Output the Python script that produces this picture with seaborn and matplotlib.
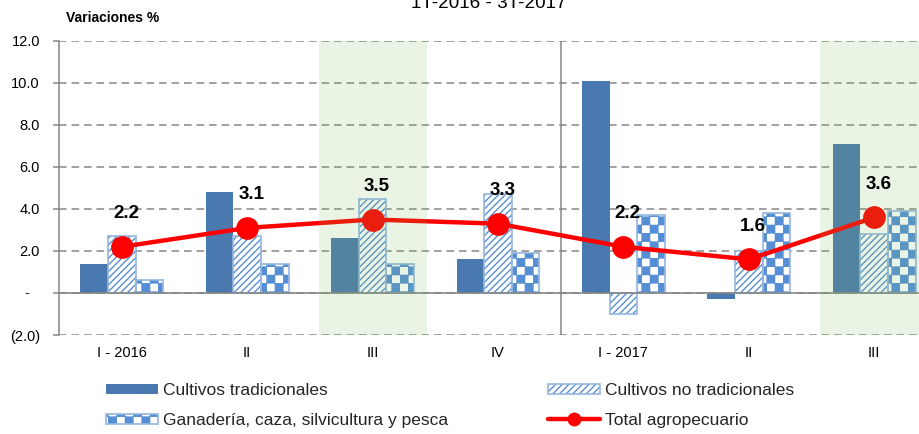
import warnings
import numpy as np
import pandas as pd
import matplotlib
matplotlib.use("Agg")
import matplotlib.pyplot as plt
import seaborn as sns
from matplotlib import hatch as mhatch
from matplotlib.path import Path
from matplotlib.patches import Patch, Rectangle
from matplotlib.lines import Line2D
from matplotlib.legend_handler import HandlerTuple

warnings.filterwarnings("ignore")

# data (variaciones % por trimestre)
quarters = ["1T-2016", "2T-2016", "3T-2016", "4T-2016", "1T-2017", "2T-2017", "3T-2017"]
quarter_labels = ["I - 2016", "II", "III", "IV", "I - 2017", "II", "III"]
trad = [1.4, 4.8, 2.6, 1.6, 10.1, -0.3, 7.1]
no_trad = [2.7, 2.7, 4.5, 4.7, -1.0, 2.0, 2.8]
ganaderia = [0.6, 1.4, 1.4, 1.9, 3.7, 3.8, 3.9]
total = [2.2, 3.1, 3.5, 3.3, 2.2, 1.6, 3.6]
series_names = ["Cultivos tradicionales", "Cultivos no tradicionales",
                "Ganadería, caza, silvicultura y pesca"]
total_name = "Total agropecuario"
yticks = [-2, 0, 2, 4, 6, 8, 10, 12]
ytick_labels = ["(2.0)", "", "2.0", "4.0", "6.0", "8.0", "10.0", "12.0"]
highlight = ["3T-2016", "3T-2017"]
first_2017 = "1T-2017"

trad_color = "#4A79B0"
hatch_color = "#5B8FD3"
checker_color = "#558ED5"
edge_light = "#93B6E0"
grey = "#868686"


class CheckerHatch(mhatch.HatchPatternBase):
    """Filled checkerboard hatch, used with the '#' character."""
    filled = True

    def __init__(self, hatch, density):
        self.n = hatch.count("#") * 6
        self.num_vertices = (self.n * self.n // 2) * 5

    def set_vertices_and_codes(self, vertices, codes):
        s = 1.0 / self.n
        d = 0.004
        k = 0
        for i in range(self.n):
            for j in range(self.n):
                if (i + j) % 2:
                    continue
                x0, y0 = i * s + d, j * s + d
                x1, y1 = x0 + s - 2 * d, y0 + s - 2 * d
                vertices[k:k + 5] = [(x0, y0), (x1, y0), (x1, y1), (x0, y1), (x0, y0)]
                codes[k:k + 5] = [Path.MOVETO, Path.LINETO, Path.LINETO,
                                  Path.LINETO, Path.CLOSEPOLY]
                k += 5


mhatch._hatch_types.append(CheckerHatch)

sns.set_theme(style="white")
plt.rcParams["font.family"] = ["Liberation Sans", "DejaVu Sans"]
plt.rcParams["hatch.linewidth"] = 1.0
plt.rcParams["lines.scale_dashes"] = False

df = pd.DataFrame({
    "trimestre": quarters * 3,
    "serie": np.repeat(series_names, len(quarters)),
    "valor": trad + no_trad + ganaderia,
})

fig = plt.figure(figsize=(9.2, 4.34), dpi=100)
ax = fig.add_axes([59 / 920, 99 / 434, 878 / 920, 294 / 434])

sns.barplot(data=df, x="trimestre", y="valor", hue="serie", order=quarters,
            hue_order=series_names, palette=[trad_color, "white", "white"],
            width=0.66, saturation=1, errorbar=None, legend=False,
            linewidth=0, ax=ax)

# hatched / checkered fills + light outline
styles = [(None, None), ("/////", hatch_color), ("##", checker_color)]
for cont, (h, hc) in zip(ax.containers, styles):
    if h is None:
        continue
    for bar in cont:
        bar.set_hatch(h)
        bar.set_edgecolor(hc)
        bar.set_linewidth(0)
        ax.add_patch(Rectangle(bar.get_xy(), bar.get_width(), bar.get_height(),
                               fill=False, ec=edge_light, lw=1.2,
                               zorder=bar.get_zorder() + 0.1))

sns.pointplot(x=quarters, y=total, order=quarters, color="red", markers="o",
              markersize=14, linewidth=3.2, errorbar=None, ax=ax)
pts = ax.lines[-1].get_xydata()
for line in ax.lines:
    line.set_zorder(3)
    line.set_markeredgecolor("red")

for (x, y), v in zip(pts, total):
    ax.annotate(f"{v:.1f}", xy=(x, y), xytext=(3, 24), textcoords="offset points",
                ha="center", va="center", fontsize=13.5, fontweight="bold",
                color="black", zorder=6)

for q in highlight:
    i = quarters.index(q)
    ax.axvspan(i - 0.43, i + 0.43, color="#7DBE5F", alpha=0.16, lw=0, zorder=4)

ax.axvline(quarters.index(first_2017) - 0.5, color=grey, lw=1.1, zorder=2.5)
ax.axhline(0, color=grey, lw=1.2, zorder=2.5)

ax.set_xlim(-0.5, len(quarters) - 0.5)
ax.set_ylim(-2, 12)
ax.set_yticks(yticks)
ax.set_yticklabels(ytick_labels)
ax.set_xticks(range(len(quarters)))
ax.set_xticklabels(quarter_labels)
ax.set_xlabel("")
ax.set_ylabel("")
ax.grid(axis="y", color=grey, lw=1.1, linestyle=(0, (5.5, 3.5)))
ax.grid(axis="x", visible=False)
ax.set_axisbelow(True)
for s in ["top", "right", "bottom"]:
    ax.spines[s].set_visible(False)
ax.spines["left"].set_color(grey)
ax.spines["left"].set_linewidth(1.1)
ax.tick_params(axis="y", left=True, length=4.3, width=1.1, color=grey, pad=9.4,
               labelsize=10.5, labelcolor="black", direction="out")
ax.tick_params(axis="x", bottom=False, length=0, pad=8, labelsize=10.5,
               labelcolor="black")
# accounting style zero label
ax.annotate("-", xy=(0, 0), xycoords=("axes fraction", "data"), xytext=(-23, 0),
            textcoords="offset points", ha="center", va="center", fontsize=10.5,
            annotation_clip=False)

fig.text(489 / 920, 1 - 8 / 434, "1T-2016 - 3T-2017", ha="center", va="baseline",
         fontsize=13.6, color="black")
fig.text(66 / 920, 1 - 18 / 434, "Variaciones %", ha="left", va="center",
         fontsize=10, fontweight="bold", color="black")

# legend
trad_h = Patch(facecolor=trad_color, edgecolor="none")
notrad_h = (Patch(facecolor="white", edgecolor=hatch_color, hatch="/////", lw=0),
            Patch(fill=False, edgecolor=edge_light, lw=1.2))
ganad_h = (Patch(facecolor="white", edgecolor=checker_color, hatch="##", lw=0),
           Patch(fill=False, edgecolor=edge_light, lw=1.2))
total_h = Line2D([], [], color="red", lw=3.2, marker="o", markersize=9)

leg_kw = dict(loc="upper left", frameon=False, fontsize=12.5, handlelength=3.0,
              handleheight=0.5, handletextpad=0.3, labelspacing=0.85, borderpad=0,
              borderaxespad=0, handler_map={tuple: HandlerTuple(ndivide=1)})
fig.legend([trad_h, ganad_h], [series_names[0], series_names[2]],
           bbox_to_anchor=(106 / 920, 1 - 383 / 434), **leg_kw)
fig.legend([notrad_h, total_h], [series_names[1], total_name],
           bbox_to_anchor=(548 / 920, 1 - 383 / 434), **leg_kw)

fig.savefig("out.png", dpi=100)
plt.close(fig)
